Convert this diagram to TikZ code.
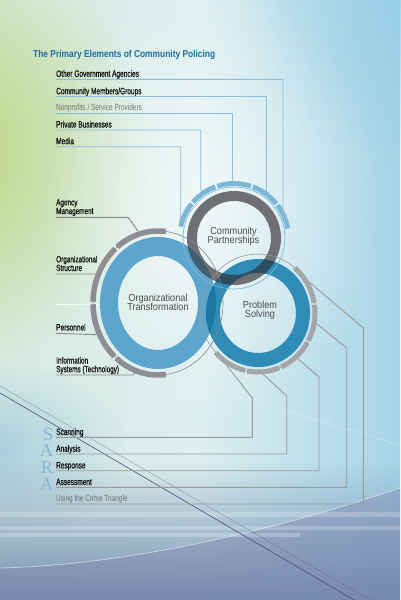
\documentclass[tikz,border=0pt]{standalone}
\usepackage{fontspec}
\setmainfont{Liberation Sans}
\newfontfamily\labfont{Liberation Sans}[FakeStretch=0.72]
\newfontfamily\labfontb{Liberation Sans}[FakeStretch=0.71,FakeBold=0.8]
\newfontfamily\ringfont{Liberation Sans}[FakeStretch=0.9]
\newfontfamily\titfont{Liberation Sans}[FakeStretch=0.84]
\newfontfamily\sarafont{Liberation Serif}
\newcommand\tightlines{\lineskiplimit=-20pt\relax}
\usetikzlibrary{fadings}
\tikzfading[name=glow, inner color=transparent!0, outer color=transparent!100]
\tikzfading[name=fadeUp, top color=transparent!100, bottom color=transparent!0]
\definecolor{bgL}{HTML}{D8EBE2}
\definecolor{bgM}{HTML}{DDEFEF}
\definecolor{bgR}{HTML}{A6D4E8}
\definecolor{greenG}{HTML}{BBD57A}
\definecolor{blueTR}{HTML}{96CDE6}
\definecolor{blueBL}{HTML}{9CC6DC}
\definecolor{botc}{HTML}{7590B2}
\definecolor{purp}{HTML}{7C7CA8}
\definecolor{otblue}{HTML}{5CA6CE}
\definecolor{psblue}{HTML}{2E8CB7}
\definecolor{cpgray}{HTML}{6F7074}
\definecolor{ovOP}{HTML}{1E77A2}
\definecolor{ovOC}{HTML}{3F5F73}
\definecolor{ovPC}{HTML}{2C4E63}
\definecolor{ovAll}{HTML}{213F52}
\definecolor{otsegc}{HTML}{8D8E91}
\definecolor{pssegc}{HTML}{A4A5A9}
\definecolor{cpsegc}{HTML}{7DB7D6}
\definecolor{cpln}{HTML}{8CBED8}
\definecolor{otln}{HTML}{858585}
\definecolor{psln}{HTML}{9A9A9A}
\definecolor{titblue}{HTML}{1F6EA0}
\definecolor{saracol}{HTML}{88B6D2}
\newcommand\segarc[7]{\draw[#1] ({#2+#4*cos(#6)},{#3-#5*sin(#6)}) arc[start angle={-#6}, end angle={-#7}, x radius=#4, y radius=#5];}
\begin{document}
\begin{tikzpicture}[x=1pt,y=-1pt,
  lab/.style={anchor=base west, inner sep=0pt, font=\labfontb\fontsize{9.2}{9}\selectfont, text=black!92},
  lab2/.style={anchor=north west, inner sep=0pt, align=left, font=\labfontb\fontsize{9}{8.7}\selectfont\tightlines, text=black!92},
  labl/.style={anchor=base west, inner sep=0pt, font=\labfont\fontsize{9}{9}\selectfont, text=black!55},
  ringtxt/.style={anchor=base, inner sep=0pt, font=\ringfont\fontsize{10.2}{10}\selectfont, text=black!70},
  saral/.style={anchor=base east, inner sep=0pt, font=\sarafont\fontsize{18.5}{18.5}\selectfont, text=saracol},
  cpline/.style={draw=cpln, line width=0.9pt},
  otline/.style={draw=otln, line width=0.9pt},
  psline/.style={draw=psln, line width=0.9pt},
  otseg/.style={draw=otsegc, line width=5.5pt},
  psseg/.style={draw=pssegc, line width=5pt},
  cpseg/.style={draw=cpsegc, line width=4.8pt},
]
\useasboundingbox (0,0) rectangle (400,600);
% ---------- background ----------
\fill[left color=bgL, right color=bgR, middle color=bgM] (0,0) rectangle (400,600);
\fill[greenG, path fading=glow] (-50,150) ellipse [x radius=200, y radius=220];
\fill[blueTR, path fading=glow] (440,-20) ellipse [x radius=200, y radius=200];
\fill[white, path fading=glow, opacity=0.6] (210,200) ellipse [x radius=170, y radius=220];
\fill[blueBL, path fading=glow, opacity=0.8] (-10,450) ellipse [x radius=140, y radius=90];
\fill[botc, path fading=fadeUp] (0,460) rectangle (400,600);
\fill[purp, opacity=0.35] (0,600) -- (0,568) .. controls (120,565) and (260,535) .. (400,488) -- (400,600) -- cycle;
\draw[white, opacity=0.5, line width=0.8pt] (0,568) .. controls (120,565) and (260,535) .. (400,488);
\fill[white, opacity=0.22] (0,512) rectangle (400,517);
\fill[white, opacity=0.22] (0,526) rectangle (400,530);
\fill[white, opacity=0.25] (0,533) rectangle (300,537);
\draw[white, opacity=0.7, line width=0.8pt] (56,304) -- (100,304);
\draw[white, opacity=0.4, line width=0.5pt] (200,385) -- (400,445);
\draw[black!40!blue!30!gray, opacity=0.45, line width=0.5pt] (0,386) -- (370,600);
\draw[black!55!blue!40!gray, line width=0.6pt] (0,393) -- (354,600);
% ---------- title ----------
\node[anchor=base west, inner sep=0pt, font=\titfont\bfseries\fontsize{10}{10}\selectfont, text=titblue] (title) at (33,57) {The Primary Elements of Community Policing};
% ---------- rings ----------
\def\ringOT{(158,303) ellipse [x radius=58, y radius=66] (158,303) ellipse [x radius=40, y radius=47]}
\def\ringPS{(258,313) ellipse [x radius=52, y radius=54] (258,313) ellipse [x radius=38, y radius=40]}
\def\ringCP{(234,238) circle [radius=47] (234,238) circle [radius=37]}
\begin{scope}[even odd rule]
\fill[otblue] \ringOT;
\fill[psblue] \ringPS;
\fill[cpgray] \ringCP;
\begin{scope}
  \clip \ringOT;
  \fill[ovOP] \ringPS;
  \fill[ovOC] \ringCP;
\end{scope}
\begin{scope}
  \clip \ringPS;
  \fill[ovPC] \ringCP;
  \begin{scope}
    \clip \ringOT;
    \fill[ovAll] \ringCP;
  \end{scope}
\end{scope}
\end{scope}
% thin circles
\draw[otln, line width=0.6pt] (158,303) ellipse [x radius=65, y radius=72];
\draw[psln, line width=0.6pt] (258,313) ellipse [x radius=57, y radius=59];
\draw[cpsegc, line width=0.7pt] (234,238) circle [radius=51];
% segmented arcs
\segarc{otseg}{158}{303}{65}{72}{83}{129}
\segarc{otseg}{158}{303}{65}{72}{131}{179}
\segarc{otseg}{158}{303}{65}{72}{181}{228}
\segarc{otseg}{158}{303}{65}{72}{230}{277}
\segarc{psseg}{258}{313}{57}{59}{50}{10}
\segarc{psseg}{258}{313}{57}{59}{8}{-28}
\segarc{psseg}{258}{313}{57}{59}{-30}{-66}
\segarc{psseg}{258}{313}{57}{59}{-68}{-101}
\segarc{psseg}{258}{313}{57}{59}{-103}{-138}
\segarc{cpseg}{234}{238}{54.5}{54.5}{168}{141}
\segarc{cpseg}{234}{238}{54.5}{54.5}{139}{110}
\segarc{cpseg}{234}{238}{54.5}{54.5}{108}{72}
\segarc{cpseg}{234}{238}{54.5}{54.5}{70}{39}
\segarc{cpseg}{234}{238}{54.5}{54.5}{37}{10}
% ring texts
\node[ringtxt] (ot1) at (158,301.3) {Organizational};
\node[ringtxt] (ot2) at (158,310.7) {Transformation};
\node[ringtxt] (cp1) at (233.5,234) {Community};
\node[ringtxt] (cp2) at (233.5,243.3) {Partnerships};
\node[ringtxt] (ps1) at (260,308.3) {Problem};
\node[ringtxt] (ps2) at (260,317.7) {Solving};
% attachment points on the rings
\coordinate (cpA1) at ({234+57*cos(163)},{238-57*sin(163)});
\coordinate (cpA2) at ({234+57*cos(125)},{238-57*sin(125)});
\coordinate (cpA3) at ({234+57*cos(92)},{238-57*sin(92)});
\coordinate (cpA4) at ({234+57*cos(55.5)},{238-57*sin(55.5)});
\coordinate (cpA5) at ({234+57*cos(18)},{238-57*sin(18)});
\coordinate (otA1) at ({158+68*cos(107)},{303-75*sin(107)});
\coordinate (otA2) at ({158+68*cos(157)},{303-75*sin(157)});
\coordinate (otA3) at ({158+68*cos(205)},{303-75*sin(205)});
\coordinate (otA4) at ({158+68*cos(250)},{303-75*sin(250)});
\coordinate (psA1) at ({258+59.5*cos(30)},{313-61.5*sin(30)});
\coordinate (psA2) at ({258+59.5*cos(-10)},{313-61.5*sin(-10)});
\coordinate (psA3) at ({258+59.5*cos(-48)},{313-61.5*sin(-48)});
\coordinate (psA4) at ({258+59.5*cos(-85)},{313-61.5*sin(-85)});
\coordinate (psA5) at ({258+59.5*cos(-122)},{313-61.5*sin(-122)});
% ---------- community partnership labels ----------
\node[lab] (oga) at (56,76.8) {Other Government Agencies};
\node[lab] (cmg) at (56,94.2) {Community Members/Groups};
\node[labl] (nsp) at (56,110.8) {Nonprofits / Service Providers};
\node[lab] (pbs) at (56,127.5) {Private Businesses};
\node[lab] (med) at (56,144.2) {Media};
\coordinate (oga0) at (56,79.3);
\coordinate (cmg0) at (56,96.7);
\coordinate (nsp0) at (56,113.3);
\coordinate (pbs0) at (56,130);
\coordinate (med0) at (56,146.7);
\draw[cpline] (oga0) -| (283,214) -- (cpA5);
\draw[cpline] (cmg0) -| (cpA4);
\draw[cpline] (nsp0) -| (cpA3);
\draw[cpline] (pbs0) -| (200.7,189) -- (cpA2);
\draw[cpline] (med0) -| (180.7,217) -- (cpA1);
% ---------- organizational transformation labels ----------
\node[lab2] (am) at (56,199) {Agency\\Management};
\node[lab2] (os) at (56,255.6) {Organizational\\Structure};
\node[lab] (per) at (56,330.5) {Personnel};
\node[lab2] (is) at (56,356.8) {Information\\Systems (Technology)};
\coordinate (am0) at (56,217.3);
\coordinate (os0) at (56,274);
\coordinate (per0) at (56,333.3);
\coordinate (is0) at (56,375);
\draw[otline] (am0) -- (128,217.3) -- (otA1);
\draw[otline] (os0) -- (95,274) -- (otA2);
\draw[otline] (per0) -- (otA3);
\draw[otline] (is0) -- (133,375) -- (otA4);
% ---------- SARA labels ----------
\node[saral] (sS) at (53.5,440) {S};
\node[saral] (sA) at (53.5,456.5) {A};
\node[saral] (sR) at (53.5,473) {R};
\node[saral] (sA2) at (53.5,490) {A};
\node[lab] (scn) at (56,435) {Scanning};
\node[lab] (ana) at (56,451.7) {Analysis};
\node[lab] (rsp) at (56,468.4) {Response};
\node[lab] (ass) at (56,485) {Assessment};
\node[labl] (ct) at (56,501.5) {Using the Crime Triangle};
\coordinate (scn0) at (56,437.3);
\coordinate (ana0) at (56,454);
\coordinate (rsp0) at (56,470.7);
\coordinate (ass0) at (56,487.3);
\coordinate (ct0) at (56,504);
\draw[psline] (psA5) -- (252.3,398) -- (252.3,437.3) -- (scn0);
\draw[psline] (psA4) -- (286.7,396) -- (286.7,454) -- (ana0);
\draw[psline] (psA3) -- (319,377) -- (319,470.7) -- (rsp0);
\draw[psline] (psA2) -- (346.7,348) -- (346.7,487.3) -- (ass0);
\draw[psline] (psA1) -- (363.3,328) -- (363.3,504) -- (ct0);
\end{tikzpicture}
\end{document}
